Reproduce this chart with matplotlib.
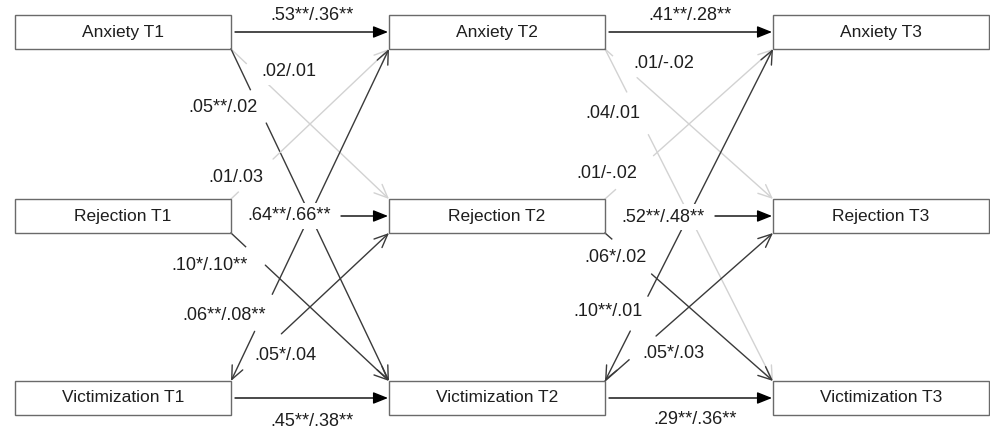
import numpy as np
import matplotlib
matplotlib.use("Agg")
import matplotlib.pyplot as plt
from matplotlib.patches import Rectangle, FancyArrowPatch

plt.rcParams['font.family'] = ['Liberation Sans', 'DejaVu Sans']

# --- data -------------------------------------------------------------
constructs = ["Anxiety", "Rejection", "Victimization"]
waves = ["T1", "T2", "T3"]

# autoregressive paths: stability[row][T1->T2, T2->T3]
stability = [[".53**/.36**", ".41**/.28**"],
             [".64**/.66**", ".52**/.48**"],
             [".45**/.38**", ".29**/.36**"]]

# cross-lagged paths
cross_src = [0, 0, 1, 1, 2, 2, 0, 0, 1, 1, 2, 2]
cross_dst = [1, 2, 0, 2, 0, 1, 1, 2, 0, 2, 0, 1]
cross_wave = [0, 0, 0, 0, 0, 0, 1, 1, 1, 1, 1, 1]
cross_coef = [".02/.01", ".05**/.02", ".01/.03", ".10*/.10**", ".06**/.08**", ".05*/.04",
              ".01/-.02", ".04/.01", ".01/-.02", ".06*/.02", ".10**/.01", ".05*/.03"]

# --- layout (pixels) --------------------------------------------------
col_x = [15, 389, 773]
row_y = [15, 199, 381]
box_w, box_h = 216, 34

stab_label_xy = [[(312, 15), (690, 15)],
                 [(289, 216), (663, 217)],
                 [(312, 422), (695, 419)]]
cross_label_xy = [(289, 72), (223, 107), (236, 177), (210, 265), (224, 315), (285, 356),
                  (664, 63), (613, 113), (607, 173), (615, 258), (608, 312), (673, 354)]
# hidden part of each line (px along the line from its start)
cross_gap = [(21, 51), (45, 82), (10, 58), (20, 47), (55, 96), (0, 69),
             (10, 43), (48, 96), (14, 65), (9, 62), (56, 95), (32, 68)]

dark = '#3a3a3a'
light = '#d2d2d2'
txt = '#1e1e1e'
fs_box = 12.5
fs = 13
lbl_box = dict(facecolor='white', edgecolor='none', pad=3)

fig = plt.figure(figsize=(9.9, 4.3), dpi=100)
ax = fig.add_axes([0, 0, 1, 1])
ax.set_xlim(0, 990)
ax.set_ylim(430, 0)
ax.axis('off')

# boxes
for r, name in enumerate(constructs):
    for c, w in enumerate(waves):
        ax.add_patch(Rectangle((col_x[c], row_y[r]), box_w, box_h, fill=False,
                               edgecolor='#6a6a6a', lw=1.0, zorder=3))
        ax.text(col_x[c] + box_w / 2, row_y[r] + box_h / 2, name + " " + w,
                ha='center', va='center', fontsize=fs_box, color=txt, zorder=4)

filled = "-|>,head_length=0.75,head_width=0.3"
opened = "->,head_length=0.8,head_width=0.35"

# autoregressive arrows
for r in range(3):
    for c in range(2):
        y = row_y[r] + box_h / 2
        x0 = col_x[c] + box_w + 4
        x1 = col_x[c + 1] - 1
        lx, ly = stab_label_xy[r][c]
        if r == 1:
            x0 = lx + 52
        ax.add_patch(FancyArrowPatch((x0, y), (x1, y), arrowstyle=filled,
                                     mutation_scale=12, color='black', lw=1.0,
                                     shrinkA=0, shrinkB=0, zorder=2))
        ax.text(lx, ly, stability[r][c], ha='center', va='center',
                fontsize=fs, color=txt, bbox=lbl_box, zorder=2.5)

# cross-lagged arrows
for i in range(len(cross_coef)):
    s, d, c = cross_src[i], cross_dst[i], cross_wave[i]
    up = d < s
    p0 = np.array([col_x[c] + box_w, row_y[s] + (0 if up else box_h)], float)
    p1 = np.array([col_x[c + 1], row_y[d] + (box_h if up else 0)], float)
    col = dark if '*' in cross_coef[i] else light
    u = (p1 - p0) / np.linalg.norm(p1 - p0)
    g0, g1 = cross_gap[i]
    a = p0 + u * g0
    b = p0 + u * g1
    if g0 > 0:
        if s == 2 and d == 0:
            ax.add_patch(FancyArrowPatch(tuple(a), tuple(p0), arrowstyle=opened,
                                         mutation_scale=12, color=col, lw=1.0,
                                         shrinkA=0, shrinkB=0, zorder=1))
        else:
            ax.plot([p0[0], a[0]], [p0[1], a[1]], color=col, lw=1.0, zorder=1)
    ax.add_patch(FancyArrowPatch(tuple(b), tuple(p1), arrowstyle=opened,
                                 mutation_scale=12, color=col, lw=1.0,
                                 shrinkA=0, shrinkB=0, zorder=1))
    lx, ly = cross_label_xy[i]
    ax.text(lx, ly, cross_coef[i], ha='center', va='center', fontsize=fs,
            color=txt, bbox=lbl_box, zorder=2.5)

fig.savefig("out.png", dpi=100, facecolor='white')
